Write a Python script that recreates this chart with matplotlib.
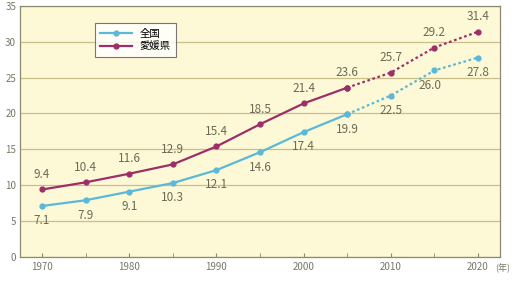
import matplotlib
matplotlib.use('Agg')
import matplotlib.pyplot as plt

plt.rcParams['font.family'] = ['Noto Sans CJK JP', 'DejaVu Sans']

years = [1970, 1975, 1980, 1985, 1990, 1995, 2000, 2005, 2010, 2015, 2020]
national = [7.1, 7.9, 9.1, 10.3, 12.1, 14.6, 17.4, 19.9, 22.5, 26.0, 27.8]
ehime = [9.4, 10.4, 11.6, 12.9, 15.4, 18.5, 21.4, 23.6, 25.7, 29.2, 31.4]
split = 7  # 2005: actual values up to here, projections after

blue = '#5ab8d8'
purple = '#9c2f68'
text_c = '#6b6b55'

fig = plt.figure(figsize=(5.19, 2.82), dpi=100)
ax = fig.add_axes([0.039, 0.089, 0.924, 0.89])
ax.set_facecolor('#fdf9d6')

for vals, col, name in [(national, blue, '全国'), (ehime, purple, '愛媛県')]:
    ax.plot(years[:split + 1], vals[:split + 1], color=col, lw=1.6, marker='o',
            ms=3.5, label=name)
    ax.plot(years[split:], vals[split:], color=col, lw=1.6, ls=(0, (1.2, 1.2)),
            marker='o', ms=3.5)

# labels: 愛媛県 above, 全国 below
for x, v in zip(years, ehime):
    ax.annotate(f'{v:.1f}', (x, v), xytext=(0, 6), textcoords='offset points',
                ha='center', va='bottom', fontsize=8.5, color=text_c)
for x, v in zip(years, national):
    dx = -3 if x == 2015 else 0
    ax.annotate(f'{v:.1f}', (x, v), xytext=(dx, -6), textcoords='offset points',
                ha='center', va='top', fontsize=8.5, color=text_c)

ax.set_xlim(1967.5, 2022.5)
ax.set_ylim(0, 35)
ax.set_yticks(range(0, 36, 5))
ax.set_xticks([1970, 1980, 1990, 2000, 2010, 2020])
ax.set_xticks(years, minor=True)
ax.tick_params(axis='x', which='both', direction='in', length=3, colors='#8a8a70',
               labelcolor='#777766', labelsize=7, pad=4)
ax.tick_params(axis='y', length=0, labelcolor='#777766', labelsize=7, pad=3)
ax.yaxis.grid(True, color='#c8bf8a', lw=0.9)
ax.set_axisbelow(True)
for s in ax.spines.values():
    s.set_color('#8a8a70')
    s.set_linewidth(0.9)

ax.annotate('(年)', (2020, 0), xytext=(12, -5), textcoords='offset points',
            fontsize=6.5, color='#777766', ha='left', va='top')

leg = ax.legend(loc='upper left', bbox_to_anchor=(0.156, 0.93), fontsize=7.5,
                frameon=True, fancybox=False, edgecolor='#555555',
                handlelength=3.0, borderpad=0.5, labelspacing=0.25,
                borderaxespad=0)
leg.get_frame().set_facecolor('#ffffff')
leg.get_frame().set_linewidth(0.8)

fig.savefig('out.png', dpi=100)
